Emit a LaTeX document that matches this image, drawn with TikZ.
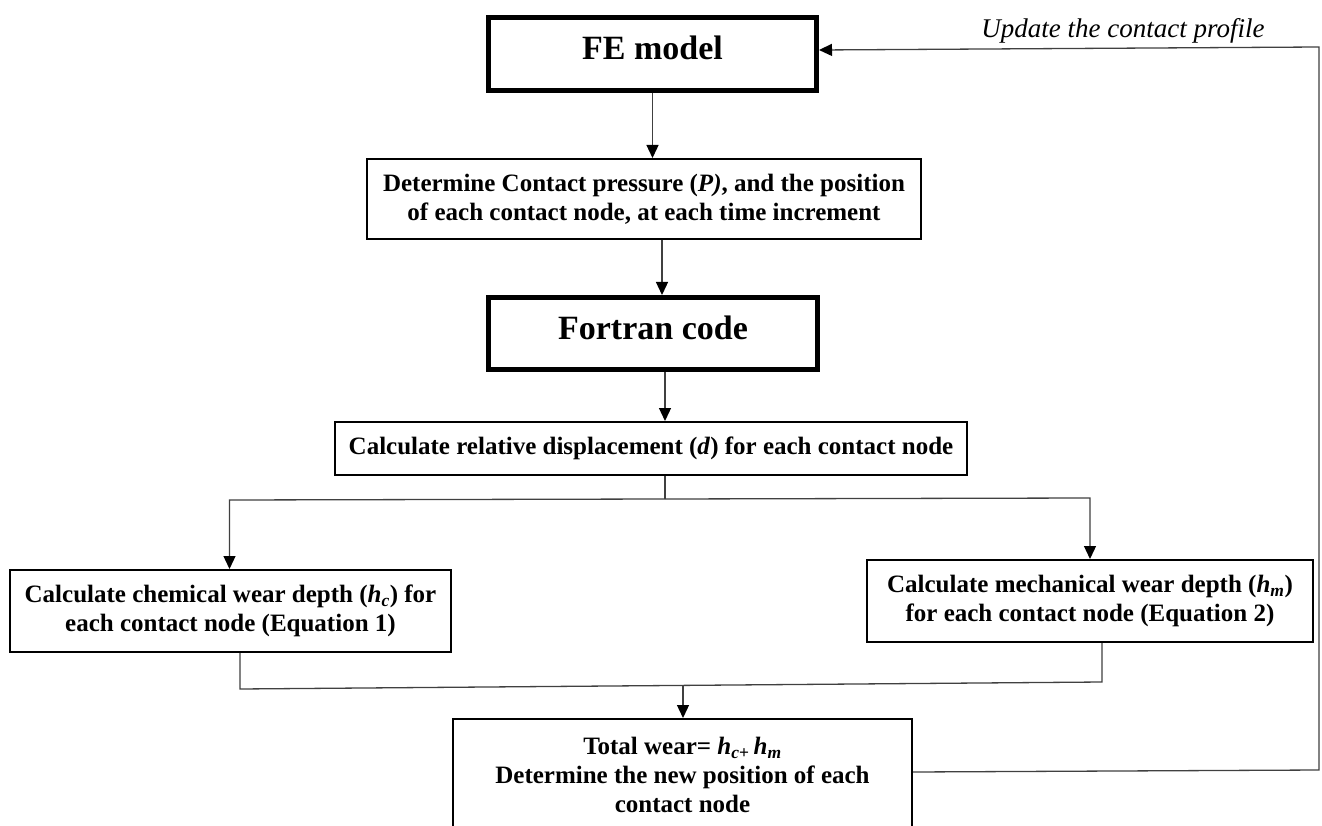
\documentclass[tikz,border=0pt]{standalone}
\usepackage{fontspec}
\setmainfont{Liberation Serif}
\usetikzlibrary{arrows.meta}
\begin{document}
\begin{tikzpicture}[x=1pt,y=-1pt,
  box/.style={draw=black, line width=2pt, inner sep=0pt, align=center,
    font=\fontsize{25}{29}\selectfont\bfseries},
  bigbox/.style={draw=black, line width=5pt, inner sep=0pt,
    font=\fontsize{34}{40}\selectfont\bfseries, text height=24pt, text depth=12pt},
  conn/.style={draw=black!75, line width=1.3pt},
  arr/.style={conn, -{Triangle[width=12pt,length=13pt,color=black]}},
  lbl/.style={font=\fontsize{27}{32}\selectfont\itshape, anchor=base, inner sep=0pt}
]
\useasboundingbox (0,0) rectangle (1322,826);
\clip (0,0) rectangle (1322,826);
\fill[white] (0,0) rectangle (1322,826);

\node[bigbox, minimum width=328pt, minimum height=73pt] (fe) at (652.5,54) {FE model};
\node[box, minimum width=554pt, minimum height=80pt] (det) at (644,199)
  {Determine Contact pressure (\textit{P)}, and the position\\of each contact node, at each time increment};
\node[bigbox, minimum width=329pt, minimum height=72pt] (fort) at (653,333.5) {Fortran code};
\node[box, minimum width=632pt, minimum height=53pt] (calc) at (651,448.5)
  {Calculate relative displacement (\textit{d}) for each contact node};
\node[box, minimum width=441pt, minimum height=82pt] (chem) at (230.5,611)
  {Calculate chemical wear depth (\textit{h}\textsubscript{\textit{c}}) for\\each contact node (Equation 1)};
\node[box, minimum width=446pt, minimum height=82pt] (mech) at (1090,601)
  {Calculate mechanical wear depth (\textit{h}\textsubscript{\textit{m}})\\for each contact node (Equation 2)};
\node[box, minimum width=459pt, minimum height=112pt] (total) at (682.5,775)
  {Total wear= \textit{h}\textsubscript{\textit{c}+}\,\textit{h}\textsubscript{\textit{m}}\\Determine the new position of each\\contact node};
\node[lbl] (upd) at (1123,38) {Update the contact profile};

% main flow
\draw[arr] (fe.south) -- (fe.south |- det.north);
\coordinate (x1) at (662,0);
\draw[arr] (det.south -| x1) -- (fort.north -| x1);
\coordinate (x2) at (665,0);
\draw[arr] (fort.south -| x2) -- (calc.north -| x2);

% branch
\coordinate (b0) at (665,499);
\coordinate (bl) at (229.5,500);
\coordinate (br) at (1090,498);
\draw[conn] (calc.south -| b0) -- (b0);
\draw[arr] (b0) -- (bl) -- (chem.north -| bl);
\draw[arr] (b0) -- (br) -- (mech.north -| br);

% merge
\coordinate (ml) at (240,689);
\coordinate (mr) at (1102,682);
\draw[conn] (chem.south -| ml) -- (ml) -- (mr) -- (mech.south -| mr);
\coordinate (ma) at (683,685.4);
\draw[arr] (ma) -- (total.north -| ma);

% feedback
\coordinate (f1) at (1319,770);
\coordinate (f2) at (1319,47);
\draw[arr] ([yshift=3pt]total.east) -- (f1) -- (f2) -- ([yshift=4pt]fe.east);
\end{tikzpicture}
\end{document}
